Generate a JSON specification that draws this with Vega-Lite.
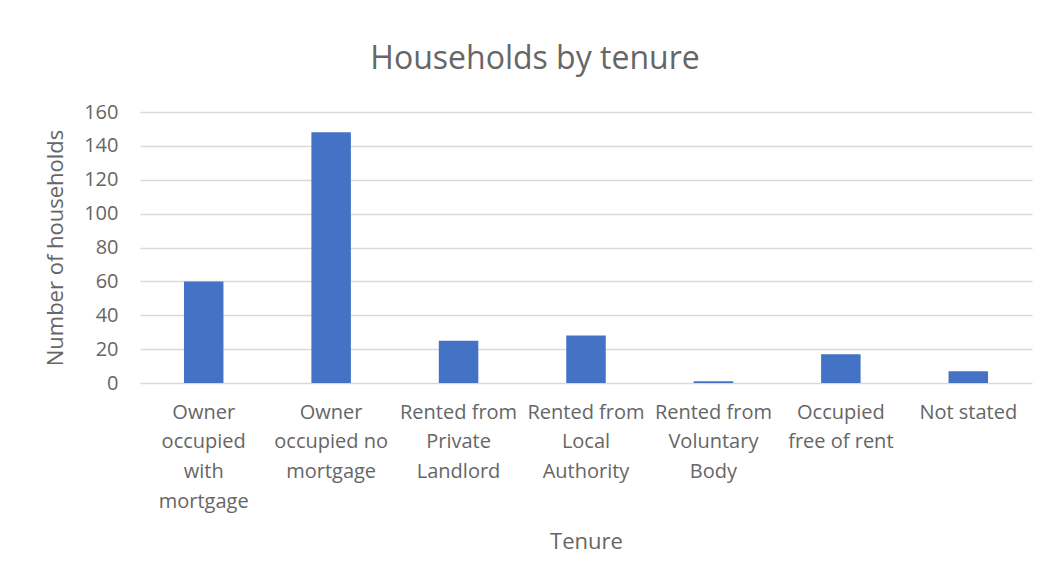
{
  "$schema": "https://vega.github.io/schema/vega-lite/v6.json",
  "autosize": {"type": "none"},
  "padding": {"left": 140, "top": 112, "right": 19, "bottom": 198},
  "width": 892,
  "height": 271,
  "background": "white",
  "title": {
    "text": "Households by tenure",
    "font": "Open Sans",
    "fontSize": 32,
    "fontWeight": "normal",
    "color": "#666666",
    "anchor": "middle",
    "dx": -51,
    "offset": 26
  },
  "data": {
    "values": [
      {"tenure": "Owner occupied with mortgage", "households": 60},
      {"tenure": "Owner occupied no mortgage", "households": 148},
      {"tenure": "Rented from Private Landlord", "households": 25},
      {"tenure": "Rented from Local Authority", "households": 28},
      {"tenure": "Rented from Voluntary Body", "households": 1},
      {"tenure": "Occupied free of rent", "households": 17},
      {"tenure": "Not stated", "households": 7}
    ]
  },
  "mark": {"type": "bar", "color": "#4472C4"},
  "encoding": {
    "x": {
      "field": "tenure",
      "type": "nominal",
      "sort": null,
      "title": "Tenure",
      "scale": {"paddingInner": 0.69, "paddingOuter": 0.345},
      "axis": {
        "labelAngle": 0,
        "ticks": false,
        "domain": false,
        "labelPadding": 19,
        "labelFont": "Open Sans",
        "labelFontSize": 20,
        "labelColor": "#666666",
        "labelLineHeight": 29.7,
        "labelBaseline": "top",
        "labelExpr": "datum.value == 'Owner occupied with mortgage' ? ['Owner','occupied','with','mortgage'] : datum.value == 'Owner occupied no mortgage' ? ['Owner','occupied no','mortgage'] : datum.value == 'Rented from Private Landlord' ? ['Rented from','Private','Landlord'] : datum.value == 'Rented from Local Authority' ? ['Rented from','Local','Authority'] : datum.value == 'Rented from Voluntary Body' ? ['Rented from','Voluntary','Body'] : datum.value == 'Occupied free of rent' ? ['Occupied','free of rent'] : datum.value",
        "titleFont": "Open Sans",
        "titleFontSize": 22,
        "titleFontWeight": "normal",
        "titleColor": "#666666",
        "titlePadding": 20
      }
    },
    "y": {
      "field": "households",
      "type": "quantitative",
      "title": "Number of households",
      "scale": {"domain": [0, 160], "nice": false},
      "axis": {
        "values": [0, 20, 40, 60, 80, 100, 120, 140, 160],
        "ticks": false,
        "domain": false,
        "grid": true,
        "gridColor": "#d9d9d9",
        "gridWidth": 1.5,
        "labelPadding": 22,
        "labelFont": "Open Sans",
        "labelFontSize": 20,
        "labelColor": "#666666",
        "titleFont": "Open Sans",
        "titleFontSize": 22,
        "titleFontWeight": "normal",
        "titleColor": "#666666",
        "titlePadding": 16
      }
    }
  },
  "config": {"view": {"stroke": null}}
}
